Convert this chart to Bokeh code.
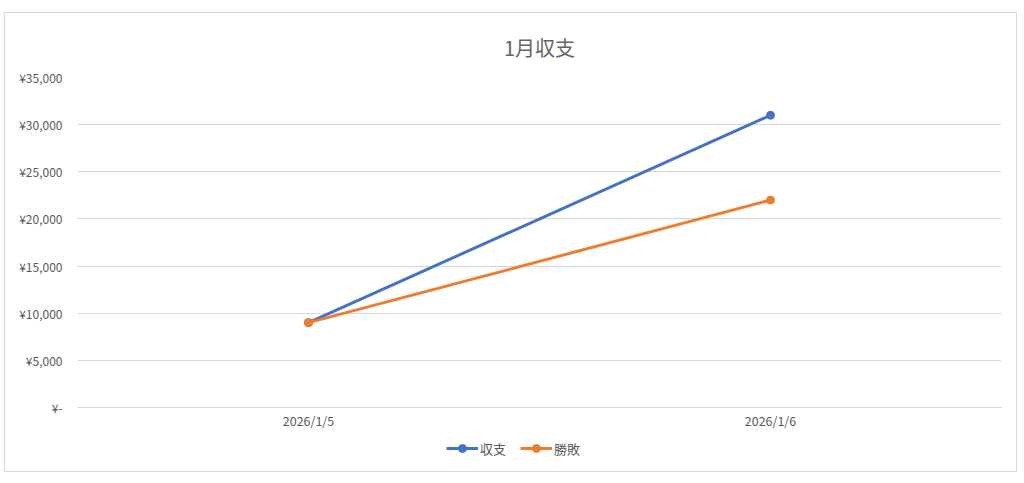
from bokeh.plotting import figure
from bokeh.layouts import column
from bokeh.models import FixedTicker, Legend, LegendItem, Range1d, FactorRange
from bokeh.embed import file_html
from bokeh.resources import INLINE

dates = ["2026/1/5", "2026/1/6"]
shushi = [9000, 31000]
shohai = [9000, 22000]
series_names = ["収支", "勝敗"]
y_ticks = [0, 5000, 10000, 15000, 20000, 25000, 30000, 35000]
y_labels = ["¥-", "¥5,000", "¥10,000", "¥15,000", "¥20,000", "¥25,000", "¥30,000", "¥35,000"]

FONT = "Noto Sans CJK JP"
GRAY = "#595959"
COLORS = ["#4472C4", "#ED7D31"]
SERIES = [shushi, shohai]

p = figure(width=1011, height=419, x_range=FactorRange(*dates, range_padding=0),
           y_range=Range1d(0, 35000), output_backend="svg", toolbar_location=None,
           min_border_left=72, min_border_right=15, min_border_top=64, min_border_bottom=25,
           title="1月収支")
p.outline_line_color = None
p.title.align = "center"
p.title.text_font = FONT
p.title.text_font_size = "20px"
p.title.text_font_style = "normal"
p.title.text_color = "#646464"
p.title.standoff = 32

p.yaxis.ticker = FixedTicker(ticks=y_ticks)
p.yaxis.major_label_overrides = {t: l for t, l in zip(y_ticks, y_labels)}
p.yaxis.axis_line_color = None
p.yaxis.major_tick_line_color = None
p.yaxis.major_tick_out = 0
p.yaxis.minor_tick_line_color = None
p.yaxis.major_label_text_font = FONT
p.yaxis.major_label_text_font_size = "12px"
p.yaxis.major_label_text_color = GRAY
p.yaxis.major_label_standoff = 15

p.xaxis.axis_line_color = "#d9d9d9"
p.xaxis.major_tick_line_color = None
p.xaxis.major_tick_out = 0
p.xaxis.major_tick_in = 0
p.xaxis.major_label_text_font = FONT
p.xaxis.major_label_text_font_size = "12.5px"
p.xaxis.major_label_text_color = GRAY
p.xaxis.major_label_standoff = 3

p.xgrid.grid_line_color = None
p.ygrid.grid_line_color = "#d9d9d9"

for vals, col in zip(SERIES, COLORS):
    p.line(dates, vals, line_color=col, line_width=3)
    p.scatter(dates, vals, size=8, fill_color=col, line_color=col)

# legend strip below the chart (series drawn out of view; only their legend shows)
p2 = figure(width=1011, height=39, x_range=FactorRange(*dates, range_padding=0),
            y_range=Range1d(100000, 200000),
            output_backend="svg", toolbar_location=None,
            min_border_left=0, min_border_right=0, min_border_top=0, min_border_bottom=0)
p2.axis.visible = False
p2.grid.visible = False
p2.outline_line_color = None
items = []
for name, vals, col in zip(series_names, SERIES, COLORS):
    lr = p2.line(dates, vals, line_color=col, line_width=3)
    sr = p2.scatter(dates, vals, size=8, fill_color=col, line_color=col)
    items.append(LegendItem(label=name, renderers=[lr, sr]))
legend = Legend(items=items, orientation="horizontal", location=(369, 13),
                label_text_font=FONT, label_text_font_size="13px", label_text_color=GRAY,
                border_line_color=None, background_fill_alpha=0,
                glyph_width=32, label_standoff=2, spacing=14, margin=0, padding=4)
p2.add_layout(legend, "center")

layout = column(p, p2, spacing=0,
                styles={"border": "1px solid #d9d9d9", "margin-left": "4px", "margin-top": "12px"})
open("out.html", "w").write(file_html(layout, INLINE))
